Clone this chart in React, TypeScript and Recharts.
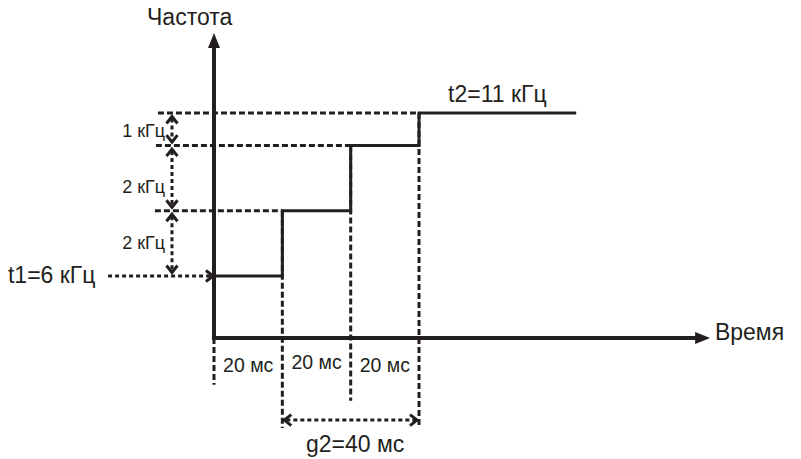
import { ComposedChart, Line, XAxis, YAxis, ReferenceLine, ReferenceDot } from "recharts";

// --- Data ---
// switching moments, ms
const times = [0, 20, 40, 60, 106];
// frequency after each switch, kHz
const freqs = [6, 8, 10, 11, 11];

const stepData = times.map((t, i) => ({ t, f: freqs[i] }));

// --- Layout (data units) ---
const X_MIN = -62.63;
const X_MAX = 171.79;
const Y_MIN = 0.386;
const Y_MAX = 14.466;

const AXIS_BASE = 4.1; // where the time axis crosses
const AXIS_TOP = 13.45;
const AXIS_END = 145.2;
const BRACE_T = -12.3; // vertical kHz arrows

const INK = "#231f20";
const FONT = "'Liberation Sans', Arial, sans-serif";

type Pt = { x: number; y: number };

const unit = (a: Pt, b: Pt) => {
  const dx = b.x - a.x;
  const dy = b.y - a.y;
  const len = Math.hypot(dx, dy) || 1;
  return { ux: dx / len, uy: dy / len };
};

// filled arrow at the end of a solid axis line
const axisShape = (p: any) => {
  const a = { x: p.x1, y: p.y1 };
  const b = { x: p.x2, y: p.y2 };
  const { ux, uy } = unit(a, b);
  const len = 15;
  const half = 6;
  const bx = b.x - ux * len;
  const by = b.y - uy * len;
  const pts = [
    [b.x, b.y],
    [bx - uy * half, by + ux * half],
    [bx + uy * half, by - ux * half],
  ]
    .map((q) => q.join(","))
    .join(" ");
  return (
    <g>
      <line x1={a.x} y1={a.y} x2={bx + ux * 2} y2={by + uy * 2} stroke={INK} strokeWidth={4} />
      <polygon points={pts} fill={INK} />
    </g>
  );
};

// open chevron
const chevron = (tip: Pt, ux: number, uy: number, key: string) => {
  const len = 7;
  const half = 5.5;
  const bx = tip.x - ux * len;
  const by = tip.y - uy * len;
  return (
    <polyline
      key={key}
      points={`${bx - uy * half},${by + ux * half} ${tip.x},${tip.y} ${bx + uy * half},${by - ux * half}`}
      fill="none"
      stroke={INK}
      strokeWidth={3}
    />
  );
};

const dottedArrow = (both: boolean, inset: number) => (p: any) => {
  const a = { x: p.x1, y: p.y1 };
  const b = { x: p.x2, y: p.y2 };
  const { ux, uy } = unit(a, b);
  const ta = { x: a.x + ux * inset, y: a.y + uy * inset };
  const tb = { x: b.x - ux * inset, y: b.y - uy * inset };
  return (
    <g>
      <line
        x1={both ? ta.x + ux * 2 : a.x}
        y1={both ? ta.y + uy * 2 : a.y}
        x2={tb.x - ux * 2}
        y2={tb.y - uy * 2}
        stroke={INK}
        strokeWidth={3}
        strokeDasharray="4 3"
      />
      {chevron(tb, ux, uy, "b")}
      {both ? chevron(ta, -ux, -uy, "a") : null}
    </g>
  );
};

const dashedShape = (p: any) => (
  <line x1={p.x1} y1={p.y1} x2={p.x2} y2={p.y2} stroke={INK} strokeWidth={3} strokeDasharray="6 3" />
);

const textShape = (text: string, size: number, anchor: "start" | "middle" | "end") => (p: any) => (
  <text x={p.cx} y={p.cy} fontSize={size} fontFamily={FONT} fill={INK} textAnchor={anchor}>
    {text}
  </text>
);

// horizontal guides: level -> from where they start on the left
const levelGuides = [
  { f: freqs[3], from: -16.4, to: times[3] },
  { f: freqs[2], from: -17.0, to: times[2] },
  { f: freqs[1], from: -17.3, to: times[1] },
];

// vertical guides: time -> how far down they go
const timeGuides = [
  { t: times[0], top: AXIS_BASE, bottom: 2.66 },
  { t: times[1], top: freqs[1], bottom: 1.34 },
  { t: times[2], top: freqs[2], bottom: 2.17 },
  { t: times[3], top: freqs[3], bottom: 1.34 },
];

const khzBaselines = [10.26, 8.55, 6.83];
const msBaselines = [3.06, 3.15, 3.06];

export default function App() {
  const last = freqs.length - 1;
  return (
    <div style={{ position: "absolute", left: 0, top: 0, background: "#fff" }}>
      <ComposedChart width={801} height={459} data={stepData} margin={{ top: 0, right: 0, bottom: 0, left: 0 }}>
        <XAxis dataKey="t" type="number" domain={[X_MIN, X_MAX]} allowDataOverflow hide />
        <YAxis type="number" domain={[Y_MIN, Y_MAX]} allowDataOverflow hide />

        {levelGuides.map((g, i) => (
          <ReferenceLine
            key={`lg-${i}`}
            segment={[
              { x: g.from, y: g.f },
              { x: g.to, y: g.f },
            ]}
            shape={dashedShape}
          />
        ))}
        {timeGuides.map((g, i) => (
          <ReferenceLine
            key={`tg-${i}`}
            segment={[
              { x: g.t, y: g.top },
              { x: g.t, y: g.bottom },
            ]}
            shape={dashedShape}
          />
        ))}

        {/* t1 pointer */}
        <ReferenceLine
          segment={[
            { x: -31, y: freqs[0] },
            { x: -0.3, y: freqs[0] },
          ]}
          shape={dottedArrow(false, 0)}
        />
        {/* kHz arrows between levels */}
        {[0, 1, 2].map((i) => (
          <ReferenceLine
            key={`ka-${i}`}
            segment={[
              { x: BRACE_T, y: freqs[3 - i] },
              { x: BRACE_T, y: freqs[2 - i] },
            ]}
            shape={dottedArrow(true, 3.5)}
          />
        ))}
        {/* g2 span */}
        <ReferenceLine
          segment={[
            { x: times[1], y: 1.58 },
            { x: times[3], y: 1.58 },
          ]}
          shape={dottedArrow(true, 2)}
        />

        <Line
          dataKey="f"
          type="stepAfter"
          stroke={INK}
          strokeWidth={3}
          dot={false}
          activeDot={false}
          isAnimationActive={false}
        />

        {/* axes */}
        <ReferenceLine
          segment={[
            { x: 0, y: AXIS_BASE },
            { x: 0, y: AXIS_TOP },
          ]}
          shape={axisShape}
        />
        <ReferenceLine
          segment={[
            { x: -0.6, y: AXIS_BASE },
            { x: AXIS_END, y: AXIS_BASE },
          ]}
          shape={axisShape}
        />

        {/* labels */}
        <ReferenceDot x={-19.6} y={13.7} shape={textShape("Частота", 23, "start")} />
        <ReferenceDot x={146.6} y={4.04} shape={textShape("Время", 23, "start")} />
        <ReferenceDot x={68.5} y={11.34} shape={textShape(`t2=${freqs[last]} кГц`, 23, "start")} />
        <ReferenceDot x={-60.3} y={5.79} shape={textShape(`t1=${freqs[0]} кГц`, 23, "start")} />
        {[0, 1, 2].map((i) => (
          <ReferenceDot
            key={`kl-${i}`}
            x={-14.3}
            y={khzBaselines[i]}
            shape={textShape(`${freqs[3 - i] - freqs[2 - i]} кГц`, 18, "end")}
          />
        ))}
        {[0, 1, 2].map((i) => (
          <ReferenceDot
            key={`ml-${i}`}
            x={(times[i] + times[i + 1]) / 2}
            y={msBaselines[i]}
            shape={textShape(`${times[i + 1] - times[i]} мс`, 19.5, "middle")}
          />
        ))}
        <ReferenceDot x={26.9} y={0.6} shape={textShape(`g2=${times[3] - times[1]} мс`, 23, "start")} />
      </ComposedChart>
    </div>
  );
}
